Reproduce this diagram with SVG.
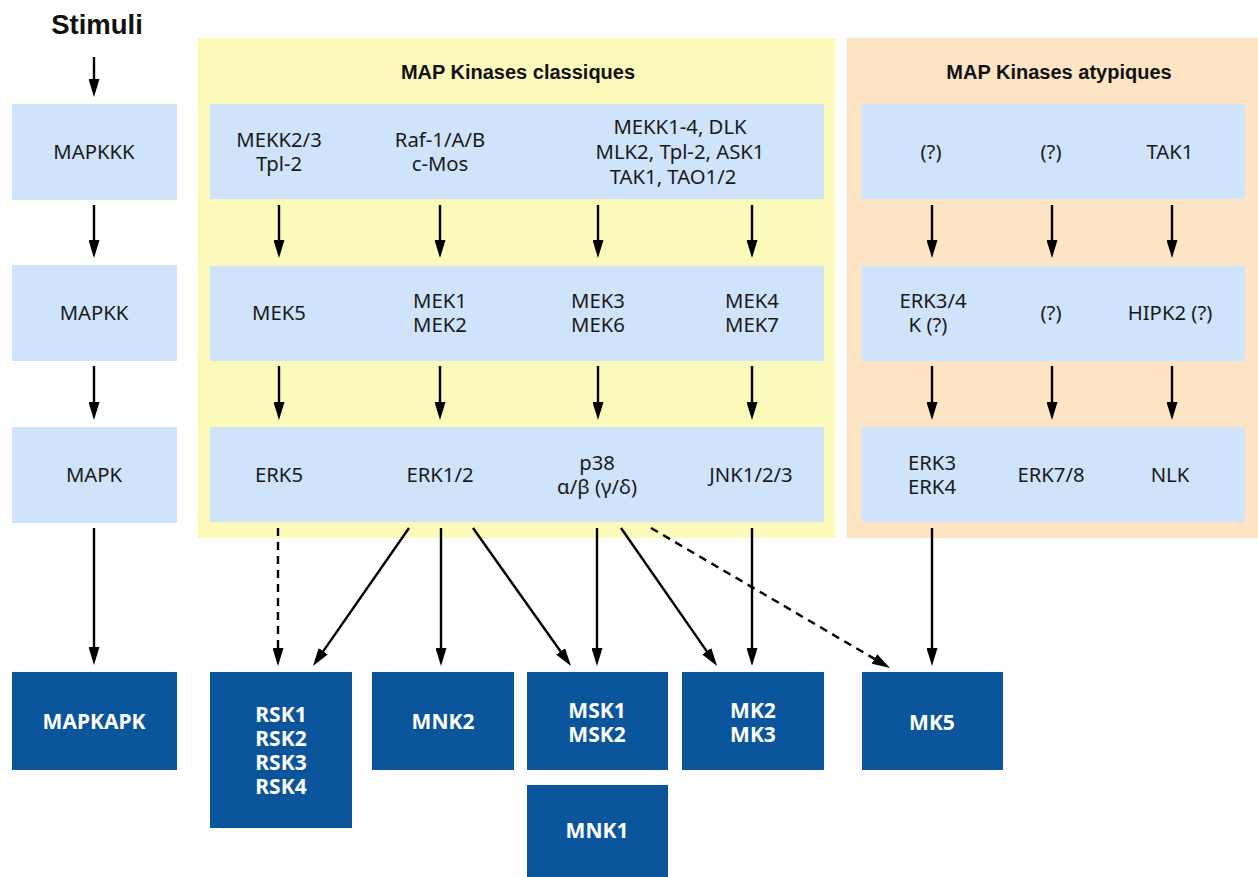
<svg xmlns="http://www.w3.org/2000/svg" width="1258" height="877" viewBox="0 0 1258 877">
<style>
.panelY{fill:#fcfabb}
.panelO{fill:#fce4c4}
.lb{fill:#cfe3fa}
.db{fill:#0b559c}
.t{font-family:"Noto Sans","Open Sans",sans-serif;font-size:20.3px;fill:#1a1a1a;text-anchor:middle}
.tb{font-family:"Noto Sans","Open Sans",sans-serif;font-size:21px;font-weight:bold;fill:#ffffff;text-anchor:middle}
.h{font-family:"Liberation Sans",Arial,sans-serif;font-weight:bold;fill:#111;text-anchor:middle}
.c{stroke:#000;stroke-width:2.4;fill:none}
.d{stroke-dasharray:8 6}
</style>
<defs>
<marker id="ah" viewBox="0 0 18 11" refX="2" refY="5.5" markerWidth="18" markerHeight="11" markerUnits="userSpaceOnUse" orient="auto">
<path d="M0,0 L18,5.5 L0,11 z" fill="#000"/>
</marker>
</defs>

<rect class="panelY" x="198" y="38" width="637" height="500"/>
<rect class="panelO" x="847" y="38" width="411" height="500"/>

<text class="h" x="97" y="34" font-size="27.5">Stimuli</text>
<text class="h" x="518" y="79" font-size="20">MAP Kinases classiques</text>
<text class="h" x="1059" y="79" font-size="20">MAP Kinases atypiques</text>

<g id="mapkkk"><rect class="lb" x="12" y="104" width="165" height="96"/><text class="t" x="94" y="159">MAPKKK</text></g>
<g id="mapkk"><rect class="lb" x="12" y="265" width="165" height="96"/><text class="t" x="94" y="320">MAPKK</text></g>
<g id="mapk"><rect class="lb" x="12" y="427" width="165" height="96"/><text class="t" x="94" y="482">MAPK</text></g>

<g id="classic-row1"><rect class="lb" x="210" y="104" width="614" height="95"/>
<text class="t" x="279" y="147">MEKK2/3</text><text class="t" x="279" y="171">Tpl-2</text>
<text class="t" x="440" y="147">Raf-1/A/B</text><text class="t" x="440" y="171">c-Mos</text>
<text class="t" x="680" y="134">MEKK1-4, DLK</text><text class="t" x="680" y="159">MLK2, Tpl-2, ASK1</text><text class="t" x="673" y="184">TAK1, TAO1/2</text>
</g>
<g id="classic-row2"><rect class="lb" x="210" y="266" width="614" height="95"/>
<text class="t" x="279" y="320">MEK5</text>
<text class="t" x="440" y="308">MEK1</text><text class="t" x="440" y="332">MEK2</text>
<text class="t" x="598" y="308">MEK3</text><text class="t" x="598" y="332">MEK6</text>
<text class="t" x="752" y="308">MEK4</text><text class="t" x="752" y="332">MEK7</text>
</g>
<g id="classic-row3"><rect class="lb" x="210" y="427" width="614" height="95"/>
<text class="t" x="279" y="482">ERK5</text>
<text class="t" x="440" y="482">ERK1/2</text>
<text class="t" x="597" y="470">p38</text><text class="t" x="597" y="494">α/β (γ/δ)</text>
<text class="t" x="751" y="482">JNK1/2/3</text>
</g>

<g id="atyp-row1"><rect class="lb" x="862" y="104" width="383" height="95"/>
<text class="t" x="931" y="159">(?)</text><text class="t" x="1051" y="159">(?)</text><text class="t" x="1170" y="159">TAK1</text>
</g>
<g id="atyp-row2"><rect class="lb" x="862" y="266" width="383" height="95"/>
<text class="t" x="933" y="308">ERK3/4</text><text class="t" x="928" y="332">K (?)</text>
<text class="t" x="1051" y="320">(?)</text>
<text class="t" x="1170" y="320">HIPK2 (?)</text>
</g>
<g id="atyp-row3"><rect class="lb" x="862" y="427" width="383" height="95"/>
<text class="t" x="932" y="470">ERK3</text><text class="t" x="932" y="494">ERK4</text>
<text class="t" x="1051" y="482">ERK7/8</text>
<text class="t" x="1170" y="482">NLK</text>
</g>

<g id="mapkapk"><rect class="db" x="12" y="672" width="165" height="98"/><text class="tb" x="94" y="729">MAPKAPK</text></g>
<g id="rsk"><rect class="db" x="210" y="672" width="142" height="156"/>
<text class="tb" x="281" y="722">RSK1</text><text class="tb" x="281" y="746">RSK2</text><text class="tb" x="281" y="770">RSK3</text><text class="tb" x="281" y="794">RSK4</text></g>
<g id="mnk2"><rect class="db" x="372" y="672" width="142" height="98"/><text class="tb" x="443" y="729">MNK2</text></g>
<g id="msk"><rect class="db" x="527" y="672" width="141" height="98"/><text class="tb" x="597" y="718">MSK1</text><text class="tb" x="597" y="742">MSK2</text></g>
<g id="mnk1"><rect class="db" x="527" y="785" width="141" height="92"/><text class="tb" x="597" y="838">MNK1</text></g>
<g id="mk23"><rect class="db" x="682" y="672" width="142" height="98"/><text class="tb" x="753" y="718">MK2</text><text class="tb" x="753" y="742">MK3</text></g>
<g id="mk5"><rect class="db" x="862" y="672" width="141" height="98"/><text class="tb" x="932" y="730">MK5</text></g>

<g id="connectors" marker-end="url(#ah)">
<line class="c" x1="94" y1="57" x2="94" y2="81"/>
<line class="c" x1="94" y1="205" x2="94" y2="242"/>
<line class="c" x1="94" y1="366" x2="94" y2="404"/>
<line class="c" x1="94" y1="528" x2="94" y2="649"/>

<line class="c" x1="279" y1="205" x2="279" y2="242"/>
<line class="c" x1="440" y1="205" x2="440" y2="242"/>
<line class="c" x1="598" y1="205" x2="598" y2="242"/>
<line class="c" x1="752" y1="205" x2="752" y2="242"/>
<line class="c" x1="932" y1="205" x2="932" y2="242"/>
<line class="c" x1="1052" y1="205" x2="1052" y2="242"/>
<line class="c" x1="1172" y1="205" x2="1172" y2="242"/>

<line class="c" x1="279" y1="366" x2="279" y2="404"/>
<line class="c" x1="440" y1="366" x2="440" y2="404"/>
<line class="c" x1="598" y1="366" x2="598" y2="404"/>
<line class="c" x1="752" y1="366" x2="752" y2="404"/>
<line class="c" x1="932" y1="366" x2="932" y2="404"/>
<line class="c" x1="1052" y1="366" x2="1052" y2="404"/>
<line class="c" x1="1172" y1="366" x2="1172" y2="404"/>

<line class="c d" x1="278" y1="528" x2="278" y2="650"/>
<line class="c" x1="409" y1="528" x2="322.1" y2="652.9"/>
<line class="c" x1="441" y1="528" x2="441" y2="650"/>
<line class="c" x1="473" y1="528" x2="561.7" y2="653"/>
<line class="c" x1="597" y1="528" x2="597" y2="650"/>
<line class="c" x1="621" y1="528" x2="707.9" y2="652.9"/>
<line class="c d" x1="651" y1="528" x2="876.2" y2="659.9"/>
<line class="c" x1="752" y1="528" x2="752" y2="650"/>
<line class="c" x1="932" y1="528" x2="932" y2="650"/>
</g>
</svg>
